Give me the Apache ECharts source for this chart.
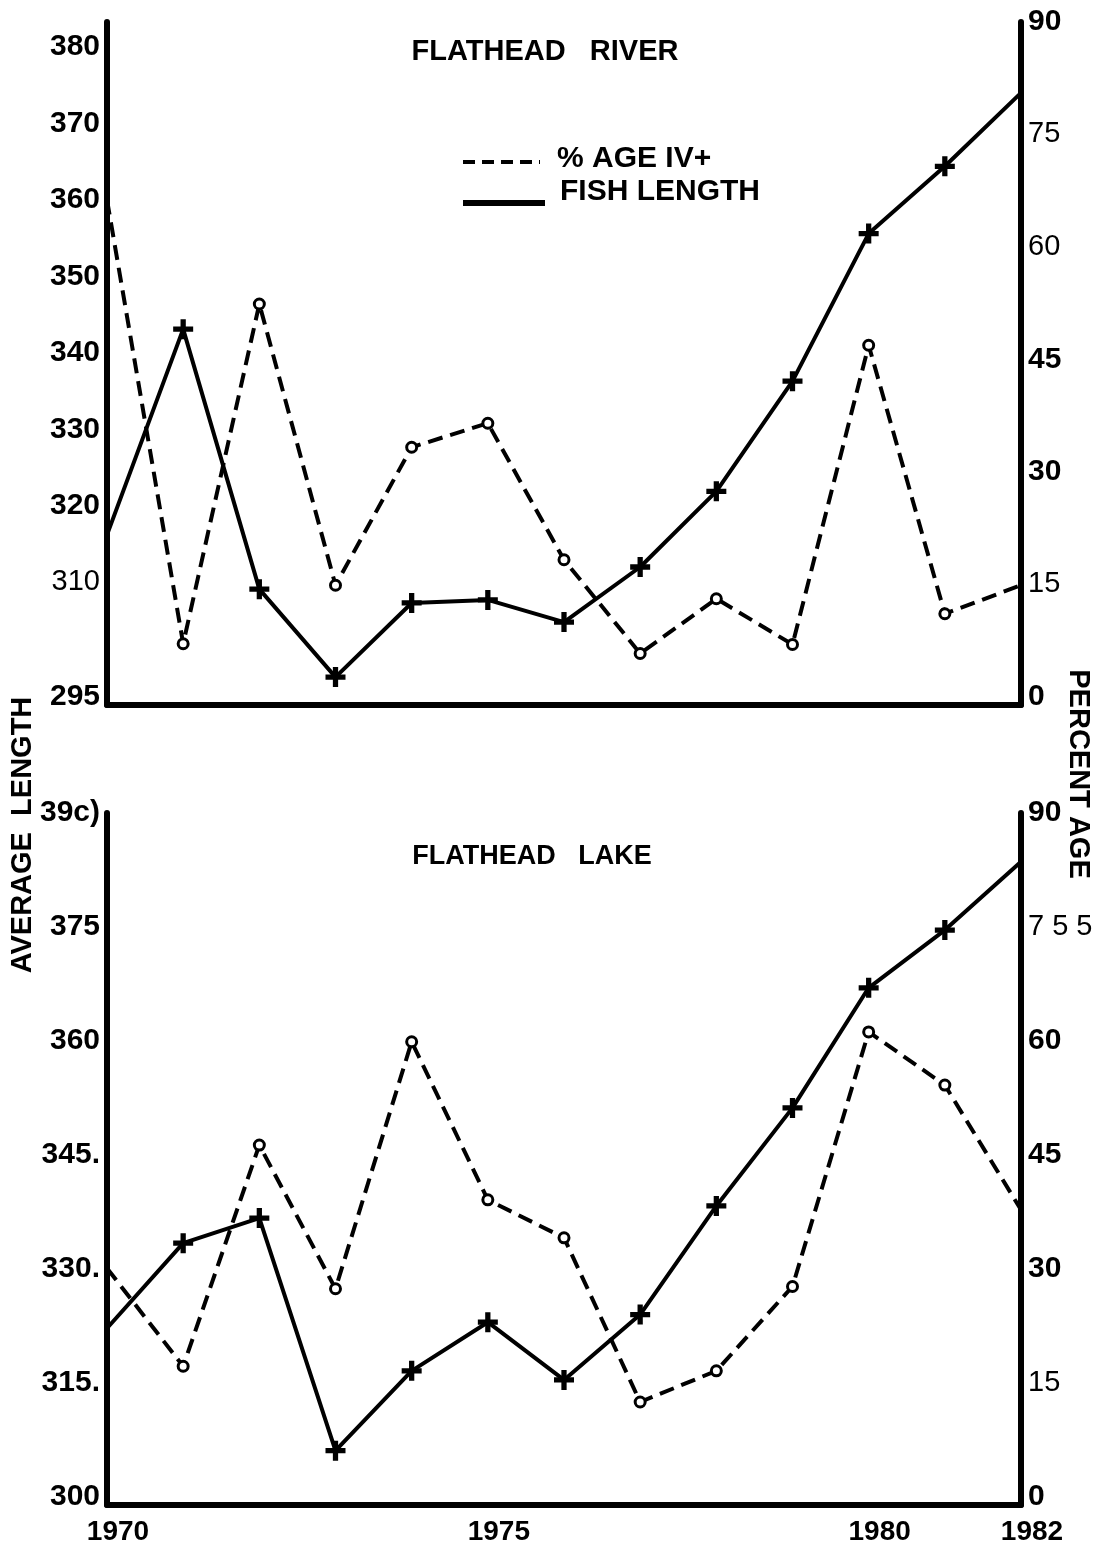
<!DOCTYPE html>
<html>
<head>
<meta charset="utf-8">
<script src="https://cdn.jsdelivr.net/npm/echarts@6/dist/echarts.min.js"></script>
<style>
html,body{margin:0;padding:0;background:#fff;}
#chart{width:1104px;height:1550px;}
</style>
</head>
<body>
<div id="chart"></div>
<script>
// ---------- DATA ----------
const years = [1970,1971,1972,1973,1974,1975,1976,1977,1978,1979,1980,1981,1982];
const yearTicks = [1970,1975,1980,1982];

// Flathead River
const riverLength  = [316.2,343.1,309.1,297.6,307.3,307.7,304.8,312.0,321.9,336.3,355.6,364.4,374.0];
const riverPercent = [66.3,7.1,52.4,14.9,33.3,36.5,18.3,5.8,13.1,7.0,46.9,11.1,14.9];

// Flathead Lake
const lakeLength  = [322.2,333.4,336.7,306.1,316.6,323.0,315.4,324.0,338.3,351.2,367.0,374.6,383.6];
const lakePercent = [30.1,17.2,46.3,27.4,59.9,39.1,34.1,12.5,16.6,27.7,61.2,54.2,37.8];

// Tick values and their printed labels
const riverLenTicks  = [295,310,320,330,340,350,360,370,380];
const riverLenLabels = ['295','310','320','330','340','350','360','370','380'];
const riverPctTicks  = [0,15,30,45,60,75,90];
const riverPctLabels = ['0','15','30','45','60','75','90'];
const lakeLenTicks   = [300,315,330,345,360,375,390];
const lakeLenLabels  = ['300','315.','330.','345.','360','375','39c)'];
const lakePctTicks   = [0,15,30,45,60,75,90];
const lakePctLabels  = ['0','15','30','45','60','7 5 5','90'];

// ---------- CHART ----------
const FONT = '"Liberation Sans", Arial, Helvetica, sans-serif';
const lightRiverLen = ['310'];
const lightRiverPct = ['15','75','60'];
const lightLakePct  = ['15','7 5 5'];

function pairs(xs, ys){ return xs.map((x,i)=>[x, ys[i]]); }
function labelFmt(ticks, labels, light){
  return function(v){
    const i = ticks.findIndex(t => Math.abs(t - v) < 1e-6);
    if (i < 0) return '';
    const s = labels[i];
    return (light.indexOf(s) >= 0 ? '{n|' : '{b|') + s + '}';
  };
}
const rich = {
  b:{fontFamily:FONT,fontSize:30,fontWeight:'bold',color:'#000'},
  n:{fontFamily:FONT,fontSize:29,fontWeight:'normal',color:'#000'}
};
const axisLine = {show:true, onZero:false, lineStyle:{color:'#000', width:6}};

function yAx(grid, pos, min, max, ticks, labels, light){
  return {
    type:'value', gridIndex:grid, position:pos, min:min, max:max,
    axisLine:axisLine, splitLine:{show:false}, axisTick:{show:false},
    axisLabel:{customValues:ticks, formatter:labelFmt(ticks,labels,light), rich:rich, margin:7}
  };
}

const PLUS = 'path://M7,0H12V7H19V12H12V19H7V12H0V7H7Z';
const lastIdx = years.length - 1;
function symFn(sym){
  return function(val, params){
    return (params.dataIndex === 0 || params.dataIndex === lastIdx) ? 'none' : sym;
  };
}
function lenSeries(x, y, data){
  return {type:'line', xAxisIndex:x, yAxisIndex:y, data:data,
    symbol:symFn(PLUS), symbolSize:20, showAllSymbol:true,
    lineStyle:{color:'#000', width:4, type:'solid'},
    itemStyle:{color:'#000', borderWidth:0}, z:3, silent:true, animation:false};
}
function pctSeries(x, y, data){
  return {type:'line', xAxisIndex:x, yAxisIndex:y, data:data,
    symbol:symFn('circle'), symbolSize:10, showAllSymbol:true,
    lineStyle:{color:'#000', width:4, type:[15,8]},
    itemStyle:{color:'#fff', borderColor:'#000', borderWidth:3}, z:4, silent:true, animation:false};
}

const chart = echarts.init(document.getElementById('chart'), null, {renderer:'canvas'});
chart.setOption({
  animation:false,
  backgroundColor:'#fff',
  title:[
    {text:'FLATHEAD   RIVER', left:540, top:32, textAlign:'center',
     textStyle:{fontFamily:FONT,fontSize:29,fontWeight:'bold',color:'#000'}},
    {text:'FLATHEAD   LAKE', left:527, top:838, textAlign:'center',
     textStyle:{fontFamily:FONT,fontSize:27,fontWeight:'bold',color:'#000'}}
  ],
  grid:[
    {left:107, width:914, top:22, height:683},
    {left:107, width:914, top:813, height:692}
  ],
  xAxis:[
    {type:'value', gridIndex:0, min:1970, max:1982, axisLine:axisLine,
     axisTick:{show:false}, axisLabel:{show:false}, splitLine:{show:false}},
    {type:'value', gridIndex:1, min:1970, max:1982, axisLine:axisLine,
     axisTick:{show:false}, splitLine:{show:false},
     axisLabel:{customValues:yearTicks, formatter:v=>String(v), margin:13, padding:[0,0,0,22],
       fontFamily:FONT, fontSize:28, fontWeight:'bold', color:'#000'}}
  ],
  yAxis:[
    yAx(0,'left', 293.954, 383.27, riverLenTicks, riverLenLabels, lightRiverLen),
    yAx(0,'right', -1.067, 90, riverPctTicks, riverPctLabels, lightRiverPct),
    yAx(1,'left', 298.947, 390, lakeLenTicks, lakeLenLabels, []),
    yAx(1,'right', -1.053, 90, lakePctTicks, lakePctLabels, lightLakePct)
  ],
  series:[
    lenSeries(0,0,pairs(years,riverLength)),
    pctSeries(0,1,pairs(years,riverPercent)),
    lenSeries(1,2,pairs(years,lakeLength)),
    pctSeries(1,3,pairs(years,lakePercent))
  ],
  graphic:[
    {type:'line', shape:{x1:463,y1:162,x2:540,y2:162}, style:{stroke:'#000', lineWidth:4, lineDash:[12,7]}},
    {type:'text', left:557, top:144, style:{text:'% AGE IV+', font:'bold 30px '+FONT, fill:'#000'}},
    {type:'rect', shape:{x:463,y:200,width:82,height:6}, style:{fill:'#000'}},
    {type:'text', left:560, top:177, style:{text:'FISH LENGTH', font:'bold 30px '+FONT, fill:'#000'}},
    {type:'text', x:23, y:835, rotation:Math.PI/2,
     style:{text:'AVERAGE  LENGTH', font:'bold 29px '+FONT, fill:'#000', align:'center', verticalAlign:'middle'}},
    {type:'text', x:1078, y:774, rotation:-Math.PI/2,
     style:{text:'PERCENT AGE', font:'bold 29px '+FONT, fill:'#000', align:'center', verticalAlign:'middle'}}
  ]
});
</script>
</body>
</html>
